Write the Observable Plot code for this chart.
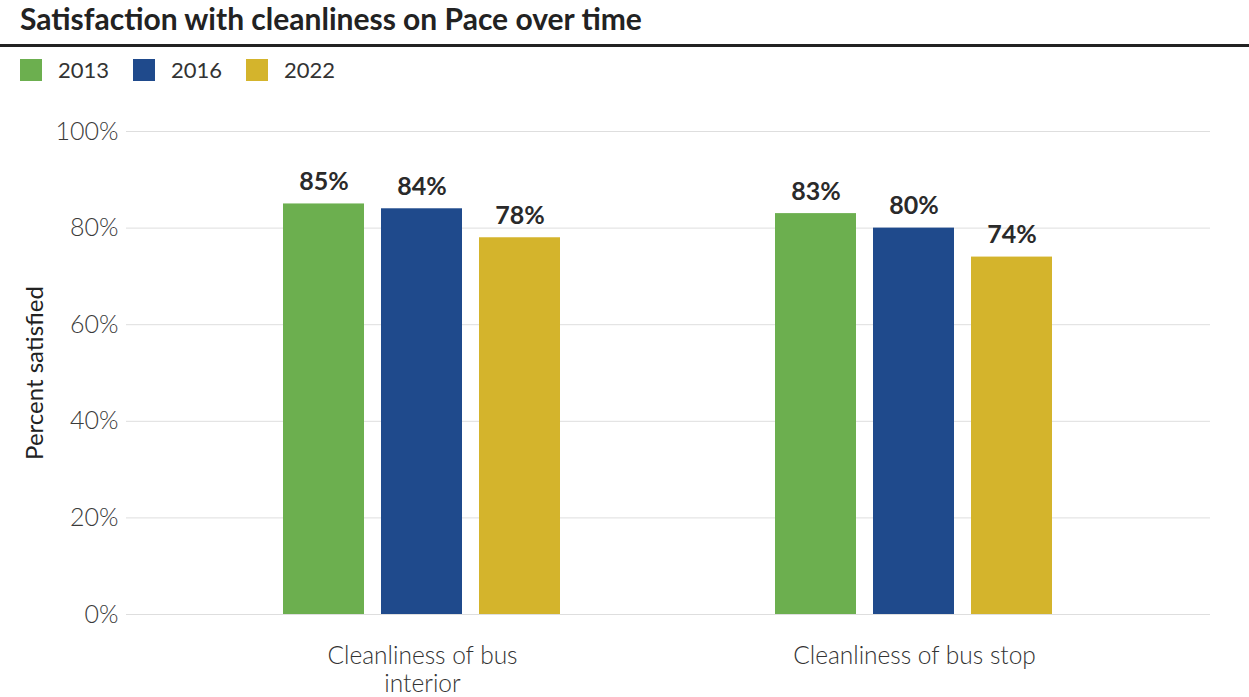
<!DOCTYPE html>
<html>
<head>
<meta charset="utf-8">
<script src="https://cdn.jsdelivr.net/npm/d3@7"></script>
<script src="https://cdn.jsdelivr.net/npm/@observablehq/plot@0.6"></script>
<style>
  html, body { margin: 0; padding: 0; background: #fff; }
  body { width: 1249px; height: 697px; overflow: hidden; font-family: Lato, "Open Sans", sans-serif; position: relative; }
  #title { position: absolute; left: 20px; top: 0px; font-size: 30px; font-weight: 700; color: #222; white-space: nowrap; }
  #rule { position: absolute; left: 0; top: 44px; width: 1249px; height: 3px; background: #222; }
  #legend { position: absolute; left: 20px; top: 56px; display: flex; align-items: center; font-size: 22px; color: #333; font-weight: 400; }
  .item { display: flex; align-items: center; margin-right: 24px; }
  .sw { width: 22px; height: 22px; margin-right: 16px; }
  .layer { position: absolute; left: 0; top: 100px; }
</style>
</head>
<body>
<div id="title">Satisfaction with cleanliness on Pace over time</div>
<div id="rule"></div>
<div id="legend"></div>
<div id="grid" class="layer"></div>
<div id="chart" class="layer"></div>
<script>
const categories = ["Cleanliness of bus interior", "Cleanliness of bus stop"];
const categoryLabels = ["Cleanliness of bus\ninterior", "Cleanliness of bus stop"];
const years = ["2013", "2016", "2022"];
const colors = ["#6caf4f", "#1f4a8c", "#d4b42c"];
const values2013 = [85, 83];
const values2016 = [84, 80];
const values2022 = [78, 74];
const yTicks = [0, 20, 40, 60, 80, 100];

const series = [values2013, values2016, values2022];
const data = [];
categories.forEach((c, i) => years.forEach((y, j) => data.push({category: c, year: y, value: series[j][i]})));

const legend = document.getElementById("legend");
years.forEach((y, j) => {
  const it = document.createElement("div");
  it.className = "item";
  it.innerHTML = `<div class="sw" style="background:${colors[j]}"></div><span>${y}</span>`;
  legend.appendChild(it);
});

const labelMap = new Map(categories.map((c, i) => [c, categoryLabels[i]]));

const dims = {
  width: 1249,
  height: 597,
  marginTop: 31,
  marginBottom: 83,
  marginLeft: 126,
  marginRight: 39,
  style: {fontFamily: "Lato, 'Open Sans', sans-serif", background: "transparent", overflow: "visible"}
};

// Background layer: grid lines and y axis across the full frame
const grid = Plot.plot({
  ...dims,
  y: {domain: [0, 100], axis: null},
  marks: [
    Plot.ruleY(yTicks, {y: d => d, stroke: "#dedede", strokeWidth: 1}),
    Plot.axisY(yTicks, {tickSize: 0, tickPadding: 8, tickFormat: d => d + "%", fontSize: 25, fill: "#3a3a3a", fontWeight: 300, label: null}),
    Plot.text(["Percent satisfied"], {text: d => d, frameAnchor: "left", textAnchor: "middle", rotate: -90, dx: -91, fontSize: 24, fill: "#222"})
  ]
});
document.getElementById("grid").appendChild(grid);

// Foreground layer: grouped bars
const chart = Plot.plot({
  ...dims,
  fx: {domain: categories, paddingInner: 0.2, paddingOuter: 0.2, axis: null, label: null},
  x: {domain: years, paddingInner: 0.17, paddingOuter: 0.59, axis: null},
  y: {domain: [0, 100], axis: null},
  color: {domain: years, range: colors},
  marks: [
    Plot.barY(data, {fx: "category", x: "year", y: "value", fill: "year"}),
    Plot.text(data, {fx: "category", x: "year", y: "value", text: d => d.value + "%", dy: -22, fontSize: 25, fontWeight: 700, fill: "#2a2a2a"}),
    Plot.axisFx({anchor: "bottom", tickSize: 0, tickPadding: 30, fontSize: 24.5, fill: "#333", fontWeight: 300, label: null, tickFormat: d => labelMap.get(d), lineHeight: 1.14})
  ]
});
document.getElementById("chart").appendChild(chart);
</script>
</body>
</html>
